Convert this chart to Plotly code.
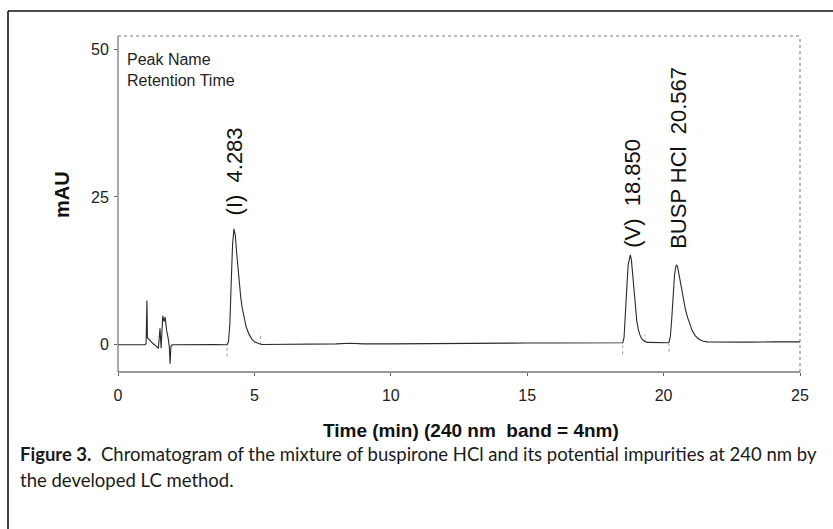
import plotly.graph_objects as go

# ---- data ----
time_min = [0.0, 0.5, 1.0, 1.03, 1.06, 1.08, 1.14, 1.20, 1.29, 1.42, 1.48, 1.54, 1.58,
            1.64, 1.69, 1.73, 1.78, 1.84, 1.88, 1.91, 1.94, 1.99, 2.5, 3.0, 3.5, 3.95,
            4.0, 4.05, 4.10, 4.15, 4.20, 4.25, 4.30, 4.35, 4.40, 4.45, 4.50, 4.55, 4.60,
            4.65, 4.70, 4.80, 4.90, 5.00, 5.10, 5.20, 5.30, 6.0, 7.0, 8.0, 8.5, 9.0,
            10.0, 11.0, 12.0, 13.0, 14.0, 15.0, 16.0, 17.0, 18.0, 18.45, 18.50, 18.55,
            18.60, 18.65, 18.70, 18.75, 18.78, 18.82, 18.87, 18.92, 18.97, 19.02, 19.07,
            19.12, 19.20, 19.30, 19.40, 19.80, 20.15, 20.20, 20.25, 20.30, 20.35, 20.40,
            20.45, 20.48, 20.52, 20.58, 20.65, 20.72, 20.80, 20.88, 20.96, 21.05, 21.15,
            21.25, 21.35, 21.45, 21.60, 22.0, 23.0, 24.0, 25.0]
signal_mau = [0.0, 0.0, 0.0, 0.3, 7.5, 1.2, 0.85, 0.56, 0.17, -0.3, -0.6, 2.8, -0.6,
              4.9, 3.9, 4.7, 2.5, 1.1, -0.3, -3.2, -0.3, 0.0, 0.05, 0.0, 0.05, 0.0,
              0.0, 0.5, 3.5, 10.5, 17.0, 19.6, 18.5, 15.5, 12.5, 10.0, 8.0, 6.3, 5.0,
              3.9, 3.0, 1.8, 1.0, 0.5, 0.25, 0.12, 0.05, 0.05, 0.1, 0.15, 0.25, 0.15,
              0.15, 0.2, 0.2, 0.25, 0.25, 0.3, 0.3, 0.35, 0.3, 0.3, 0.35, 1.2,
              4.5, 9.5, 13.5, 15.0, 15.2, 14.3, 11.5, 8.0, 5.6, 3.9, 2.7,
              1.8, 1.0, 0.6, 0.4, 0.35, 0.35, 0.45, 1.5, 4.5, 8.5, 11.8,
              13.3, 13.5, 13.0, 11.5, 9.5, 7.7, 6.0, 4.6, 3.4, 2.4, 1.6,
              1.1, 0.8, 0.6, 0.5, 0.45, 0.45, 0.5, 0.5]

peak_names = ["(I)", "(V)", "BUSP HCl"]
retention_times = [4.283, 18.850, 20.567]
label_base_mau = [21.5, 16.0, 15.9]

# integration marks (time, low mAU, high mAU)
mark_times = [4.0, 5.22, 18.5, 19.32, 20.2]
mark_low = [-2.0, 0.0, -1.6, 0.4, -1.2]
mark_high = [0.3, 1.6, 0.3, 1.7, 0.4]

x_ticks = [0, 5, 10, 15, 20, 25]
y_ticks = [0, 25, 50]

# ---- geometry ----
W, H = 833, 529
L, R, T, B = 118, 800, 36, 372
def px(xp):
    return (xp - L) / (R - L)
def py(yp):
    return (B - yp) / (B - T)

fig = go.Figure()

for t, lo, hi in zip(mark_times, mark_low, mark_high):
    fig.add_trace(go.Scatter(x=[t, t], y=[lo, hi], mode="lines",
                             line=dict(color="#9a9a9a", width=1, dash="dot"),
                             hoverinfo="skip", showlegend=False))

fig.add_trace(go.Scatter(x=time_min, y=signal_mau, mode="lines",
                         line=dict(color="#2a2a2a", width=1.1),
                         showlegend=False))

for name, rt, base in zip(peak_names, retention_times, label_base_mau):
    fig.add_annotation(x=rt, y=base, xref="x", yref="y",
                       text=f"{name}\u00a0\u00a0{rt:.3f}", textangle=-90,
                       showarrow=False, xanchor="center", yanchor="bottom",
                       font=dict(family="Liberation Sans, Arial", size=22, color="#111"))

fig.add_annotation(x=px(125), y=py(49), xref="paper", yref="paper",
                   text="Peak Name<br>Retention Time", align="left",
                   showarrow=False, xanchor="left", yanchor="top",
                   font=dict(family="Liberation Sans, Arial", size=16, color="#222"))

fig.add_annotation(x=px(62), y=py(195), xref="paper", yref="paper",
                   text="<b>mAU</b>", textangle=-90, showarrow=False,
                   xanchor="center", yanchor="middle",
                   font=dict(family="Liberation Sans, Arial", size=20, color="#111"))

fig.add_annotation(x=px(471), y=py(430), xref="paper", yref="paper",
                   text="<b>Time (min) (240 nm\u00a0 band = 4nm)</b>", showarrow=False,
                   xanchor="center", yanchor="middle",
                   font=dict(family="Liberation Sans, Arial", size=19, color="#111"))

fig.add_annotation(x=px(18), y=py(454), xref="paper", yref="paper",
                   text="<b>Figure 3.</b>\u00a0 Chromatogram of the mixture of buspirone HCl and its potential impurities at 240 nm by",
                   showarrow=False, xanchor="left", yanchor="middle",
                   font=dict(family="Lato", size=18.5, color="#1a1a1a"))
fig.add_annotation(x=px(18), y=py(480), xref="paper", yref="paper",
                   text="the developed LC method.",
                   showarrow=False, xanchor="left", yanchor="middle",
                   font=dict(family="Lato", size=18.5, color="#1a1a1a"))

# plot frame
fig.add_shape(type="line", xref="paper", yref="paper", x0=0, x1=0, y0=0, y1=1,
              line=dict(color="#555", width=1))
fig.add_shape(type="line", xref="paper", yref="paper", x0=0, x1=1, y0=0, y1=0,
              line=dict(color="#333", width=1.2))
fig.add_shape(type="line", xref="paper", yref="paper", x0=0, x1=1, y0=1, y1=1,
              line=dict(color="#777", width=1, dash="dot"))
fig.add_shape(type="line", xref="paper", yref="paper", x0=1, x1=1, y0=0, y1=1,
              line=dict(color="#777", width=1, dash="dot"))
# outer figure border
fig.add_shape(type="line", xref="paper", yref="paper", x0=px(8), x1=px(8), y0=py(529), y1=py(11),
              line=dict(color="#111", width=1.6))
fig.add_shape(type="line", xref="paper", yref="paper", x0=px(8), x1=px(833), y0=py(11), y1=py(11),
              line=dict(color="#111", width=1.6))

fig.update_layout(
    width=W, height=H,
    margin=dict(l=L, r=W - R, t=T, b=H - B),
    paper_bgcolor="white", plot_bgcolor="white",
    xaxis=dict(range=[0, 25], tickvals=x_ticks, ticks="outside", ticklen=3,
               tickcolor="#666", showgrid=False, zeroline=False, showline=False,
               tickfont=dict(family="Liberation Sans, Arial", size=16, color="#222"),
               ticklabelstandoff=6),
    yaxis=dict(range=[-4.6, 52.2], tickvals=y_ticks, ticks="outside", ticklen=3,
               tickcolor="#666", showgrid=False, zeroline=False, showline=False,
               tickfont=dict(family="Liberation Sans, Arial", size=16, color="#222"),
               ticklabelstandoff=2),
)

fig.write_html("out.html")
